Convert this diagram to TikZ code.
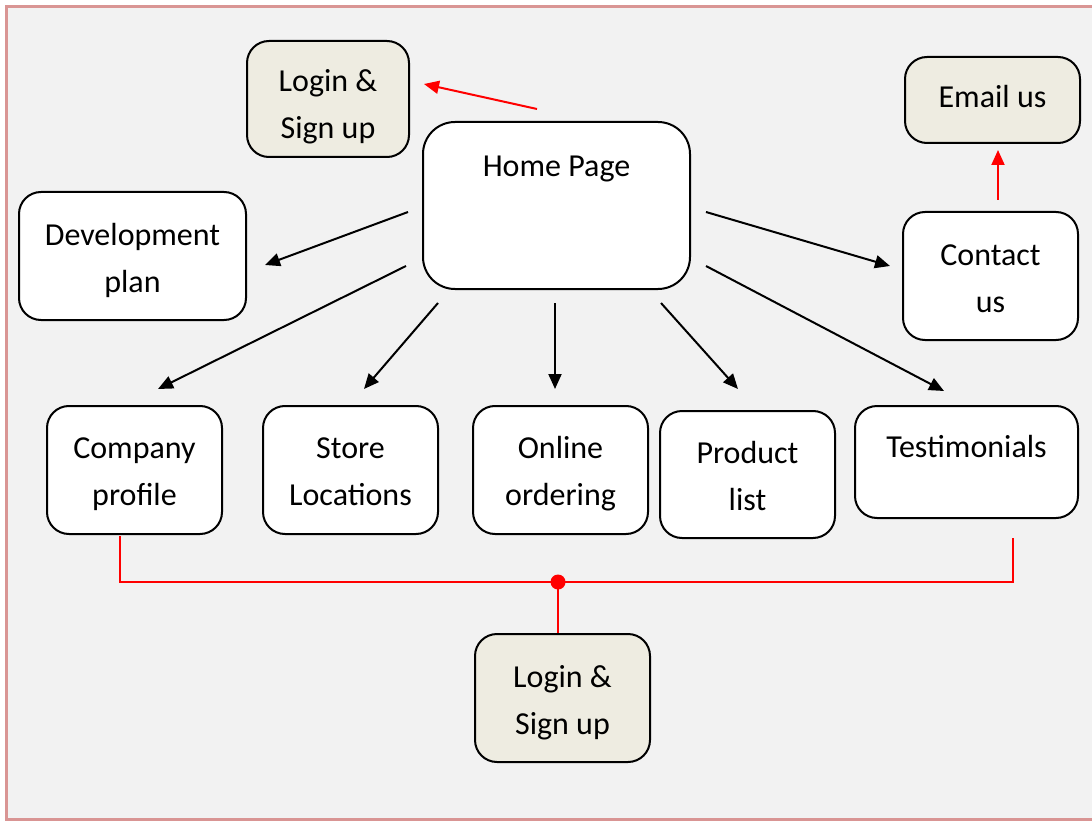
\documentclass[tikz,border=0pt]{standalone}
\usepackage{fontspec}
\setmainfont{Carlito}
\usetikzlibrary{arrows.meta,calc}
\definecolor{panel}{HTML}{F2F2F2}
\definecolor{tanfill}{HTML}{EEECE1}
\definecolor{framepink}{HTML}{D99594}
\begin{document}
\begin{tikzpicture}[x=1pt,y=-1pt,
  box/.style={draw=black, line width=2pt, fill=white, rounded corners=22pt,
    align=center, inner sep=0pt, text height=71pt, text depth=0pt,
    font=\fontsize{32}{47}\selectfont},
  tanbox/.style={box, fill=tanfill},
  sz/.style 2 args={minimum width=#1pt, minimum height=#2pt},
  link/.style={line width=2pt, -{Triangle[length=15pt,width=13pt]}},
  redlink/.style={link, draw=red, -{Triangle[length=15pt,width=13pt,fill=red]}},
  redline/.style={draw=red, line width=2pt},
  toplabel/.style={anchor=north, font=\fontsize{32}{47}\selectfont}
]
\useasboundingbox (0,0) rectangle (1092,821);
% page panel with pink frame
\fill[panel] (6.5,6.5) rectangle (1100,819.5);
\draw[framepink, line width=3pt] (6.5,6.5) rectangle (1100,819.5);

% boxes
\node[tanbox, sz={162}{116}, text height=80pt] (login1) at (328,99) {Login \&\\Sign up};
\node[box, sz={267}{167}, rounded corners=32pt,
  label={[toplabel, yshift=-31pt]north:Home Page}] (home) at (556.5,205.5) {};
\node[tanbox, sz={175}{86}, text height=23pt, text depth=7pt] (email) at (992.5,100) {Email us};
\node[box, sz={227}{128}, text height=72pt] (dev) at (132.5,256) {Development\\plan};
\node[box, sz={175}{128}, text height=72pt] (contact) at (990.5,276) {Contact\\us};
\node[box, sz={175}{128}, text height=70pt] (company) at (134.5,470) {Company\\profile};
\node[box, sz={175}{128}, text height=70pt] (store) at (350.5,470) {Store\\Locations};
\node[box, sz={175}{128}, text height=70pt] (online) at (560.5,470) {Online\\ordering};
\node[box, sz={175}{127}] (product) at (747.5,474.5) {Product\\list};
\node[box, sz={223}{112},
  label={[toplabel, yshift=-27pt]north:Testimonials}] (testi) at (966.5,462) {};
\node[tanbox, sz={175}{128}, text height=72pt] (login2) at (562.5,698) {Login \&\\Sign up};

% arrows from the home page
\draw[link] ($(home.west)+(-14,6.5)$) -- ($(dev.east)+(18,9)$);
\draw[link] ($(home.west)+(-16,60.5)$) -- ($(company.north)+(23.5,-16)$);
\draw[link] ($(home.south)+(-118.5,13)$) -- ($(store.north)+(13.5,-16)$);
\draw[link] ($(home.south)+(-1.5,13)$) -- ($(online.north)+(-5.5,-16)$);
\draw[link] ($(home.south)+(104.5,13)$) -- ($(product.north)+(-9.5,-21)$);
\draw[link] ($(home.east)+(15,60.5)$) -- ($(testi.north)+(-22.5,-14)$);
\draw[link] ($(home.east)+(15,6.5)$) -- ($(contact.west)+(-12,-10)$);
\draw[redlink] ($(home.north)+(-19.5,-12)$) -- ($(login1.east)+(14,-15)$);
\draw[redlink] ($(contact.north)+(7.5,-11)$) -- ($(email.south)+(5.5,6)$);

% shared login link along the bottom
\coordinate (junction) at (558,582);
\draw[redline] ($(company.south)+(-14.5,1)$) |- (junction) -| ($(testi.south)+(46.5,19)$);
\draw[redline] (junction) -- (junction |- login2.north);
\fill[red] (junction) circle (7.5pt);
\end{tikzpicture}
\end{document}
